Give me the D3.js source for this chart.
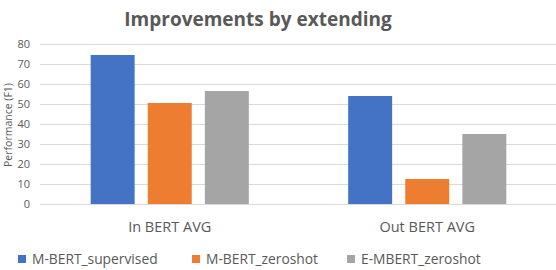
<!DOCTYPE html>
<html>
<head>
<meta charset="utf-8">
<script src="https://cdn.jsdelivr.net/npm/d3@7"></script>
<style>
  body { margin: 0; background: #fff; }
  text { font-family: "Open Sans", "Liberation Sans", sans-serif; fill: #595959; }
</style>
</head>
<body>
<svg id="chart"></svg>
<script>
const categories = ["In BERT AVG", "Out BERT AVG"];
const seriesNames = ["M-BERT_supervised", "M-BERT_zeroshot", "E-MBERT_zeroshot"];
const supervised = [74.5, 54];
const zeroshot = [50.5, 12.5];
const embertZeroshot = [56.5, 35];
const yTicks = [0, 10, 20, 30, 40, 50, 60, 70, 80];

const width = 556, height = 270;
const margin = { top: 44, right: 0, bottom: 66, left: 41 };
const colors = ["#4472C4", "#ED7D31", "#A5A5A5"];

const svg = d3.select("#chart").attr("width", width).attr("height", height);

const data = categories.map((c, i) => ({
  cat: c,
  values: [supervised[i], zeroshot[i], embertZeroshot[i]]
}));

const y = d3.scaleLinear().domain([0, 80]).range([height - margin.bottom, margin.top]);
const x0 = d3.scaleBand().domain(categories).range([margin.left, width - margin.right]).padding(0);
const x1 = d3.scaleBand().domain(seriesNames).range([0, x0.bandwidth()])
  .paddingInner(0.23).paddingOuter(0.87);

// title
svg.append("text")
  .attr("x", 258).attr("y", 26)
  .attr("text-anchor", "middle")
  .style("font-size", "19px").style("font-weight", "bold")
  .text("Improvements by extending");

// gridlines
svg.append("g").selectAll("line")
  .data(yTicks)
  .enter().append("line")
  .attr("x1", margin.left - 1).attr("x2", width)
  .attr("y1", d => Math.round(y(d)) + 0.5).attr("y2", d => Math.round(y(d)) + 0.5)
  .attr("stroke", "#d9d9d9").attr("stroke-width", 1);

// y tick labels
svg.append("g").selectAll("text")
  .data(yTicks)
  .enter().append("text")
  .attr("x", 30).attr("y", d => y(d) + 4)
  .attr("text-anchor", "end")
  .style("font-size", "11px")
  .text(d => d);

// y axis title
svg.append("text")
  .attr("transform", `translate(12, 125) rotate(-90)`)
  .attr("text-anchor", "middle")
  .style("font-size", "10.5px")
  .text("Performance (F1)");

// bars
const groups = svg.append("g").selectAll("g")
  .data(data)
  .enter().append("g")
  .attr("transform", d => `translate(${x0(d.cat)},0)`);

groups.selectAll("rect")
  .data(d => d.values.map((v, i) => ({ key: seriesNames[i], value: v, idx: i })))
  .enter().append("rect")
  .attr("x", d => x1(d.key))
  .attr("width", x1.bandwidth())
  .attr("y", d => y(d.value))
  .attr("height", d => y(0) - y(d.value))
  .attr("fill", d => colors[d.idx]);

// category labels
svg.append("g").selectAll("text")
  .data(categories)
  .enter().append("text")
  .attr("x", d => x0(d) + x0.bandwidth() / 2)
  .attr("y", 232)
  .attr("text-anchor", "middle")
  .style("font-size", "14.5px")
  .text(d => d);

// legend
const legendX = [18, 192, 347];
const legend = svg.append("g").selectAll("g")
  .data(seriesNames)
  .enter().append("g")
  .attr("transform", (d, i) => `translate(${legendX[i]}, 259)`);

legend.append("rect")
  .attr("x", 0).attr("y", -4)
  .attr("width", 8).attr("height", 8)
  .attr("fill", (d, i) => colors[i]);

legend.append("text")
  .attr("x", 14).attr("y", 5)
  .style("font-size", "13.8px")
  .text(d => d);
</script>
</body>
</html>
